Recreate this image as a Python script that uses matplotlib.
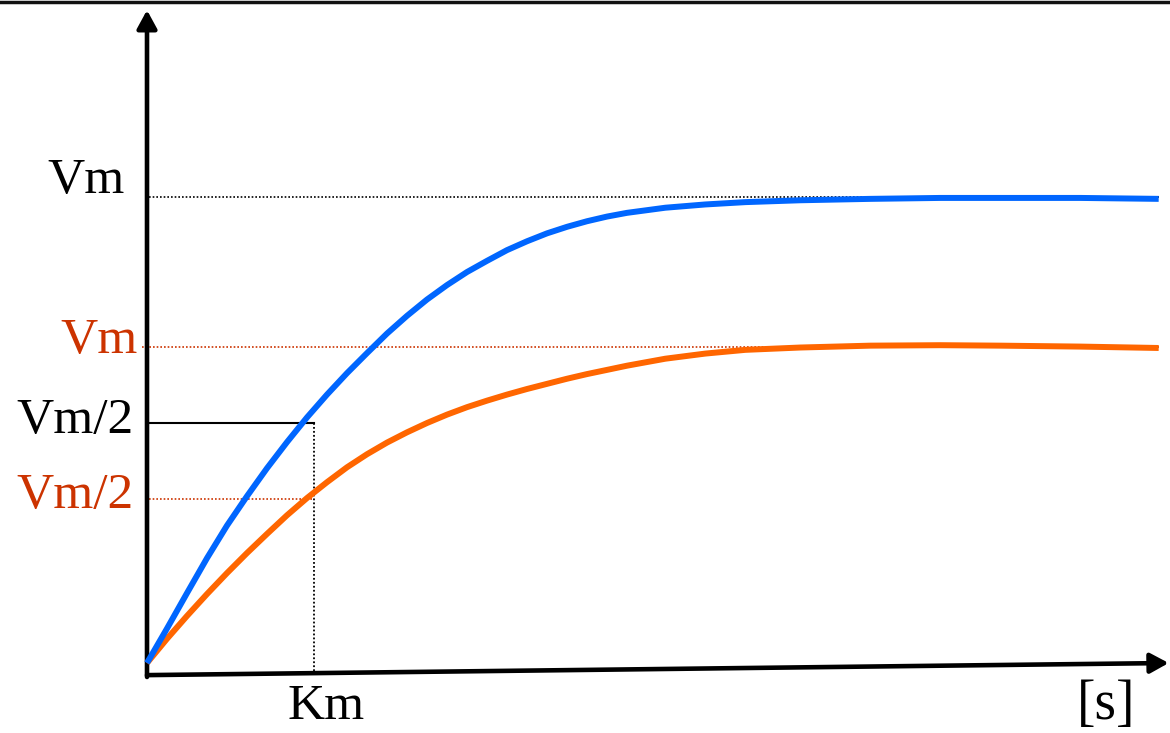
import matplotlib
matplotlib.use("Agg")
import matplotlib.pyplot as plt
from matplotlib.lines import Line2D

# ---------------- data (time in units of Km, rate in units of blue Vm) ----------------
t_pts = [0.00, 0.12, 0.24, 0.36, 0.48, 0.60, 0.72, 0.84, 0.96, 1.08, 1.20, 1.32, 1.44,
         1.56, 1.68, 1.80, 1.92, 2.04, 2.16, 2.28, 2.40, 2.52, 2.64, 2.76, 2.88,
         3.11, 3.35, 3.59, 3.92, 4.34, 4.76, 5.12, 5.60, 6.07]

v_blue = [0.000, 0.074, 0.150, 0.225, 0.295, 0.358, 0.418, 0.474, 0.527, 0.576, 0.622,
          0.665, 0.707, 0.745, 0.780, 0.811, 0.839, 0.863, 0.886, 0.905, 0.922, 0.936,
          0.948, 0.958, 0.966, 0.977, 0.984, 0.989, 0.993, 0.996, 0.998, 0.998, 0.998, 0.996]

v_orange = [0.000, 0.052, 0.101, 0.148, 0.193, 0.236, 0.277, 0.317, 0.354, 0.388, 0.420,
            0.448, 0.473, 0.495, 0.515, 0.533, 0.549, 0.563, 0.576, 0.588, 0.599, 0.610,
            0.620, 0.629, 0.638, 0.653, 0.664, 0.672, 0.677, 0.681, 0.682, 0.681, 0.679, 0.676]

vm_blue = 1.0
vm_orange = 0.678
half_blue = 0.515
half_orange = 0.352
km = 1.0
t_end = 6.07

BLUE = "#0066FF"
ORANGE = "#FF6600"
RED_TXT = "#CC3300"

W, H = 1170, 733
fig = plt.figure(figsize=(W / 100, H / 100), dpi=100)
ax = fig.add_axes([0, 0, 1, 1])
ax.set_xlim(-147 / 166.67, 1023 / 166.67)
ax.set_ylim(-70 / 466, 663 / 466)
ax.axis("off")

# axes drawn as arrows
arrow = dict(arrowstyle="-|>,head_length=0.55,head_width=0.3", lw=3.3, color="black",
             mutation_scale=20, shrinkA=0, shrinkB=0)
ax.annotate("", xy=(0, 1.401), xytext=(0, -0.03), arrowprops=arrow)
ax.annotate("", xy=(6.13, 0.0), xytext=(0, -0.026), arrowprops=arrow)

# guide lines
dot = (0, (1, 1.2))
ax.plot([0.01, t_end], [vm_blue, vm_blue], color="black", lw=1.2, ls=dot)
ax.plot([-0.03, t_end], [vm_orange, vm_orange], color=RED_TXT, lw=1.2, ls=dot)
ax.plot([0.01, km], [half_blue, half_blue], color="black", lw=1.5)
ax.plot([0.01, km], [half_orange, half_orange], color=RED_TXT, lw=1.2, ls=dot)
ax.plot([km, km], [half_blue, -0.021], color="black", lw=1.3, ls=dot)

# curves
ax.plot(t_pts, v_orange, color=ORANGE, lw=4.3, solid_capstyle="butt", zorder=3)
ax.plot(t_pts, v_blue, color=BLUE, lw=4.3, solid_capstyle="butt", zorder=4)

# labels
font = "Liberation Serif"
def label(px, py, s, color="black", ha="right", size=37):
    fig.text(px / W, 1 - py / H, s, ha=ha, va="baseline", color=color,
             family=font, fontsize=size)

label(125, 193, "Vm")
label(138, 353, "Vm", RED_TXT)
label(134, 433, "Vm/2")
label(134, 508, "Vm/2", RED_TXT)
label(326, 719, "Km", ha="center")
label(1106, 719, "[s]", ha="center", size=40)

# top border
fig.add_artist(Line2D([0, 1], [1 - 1.5 / H, 1 - 1.5 / H], transform=fig.transFigure,
                      color="#111111", lw=2.5))

fig.savefig("out.png", dpi=100)
